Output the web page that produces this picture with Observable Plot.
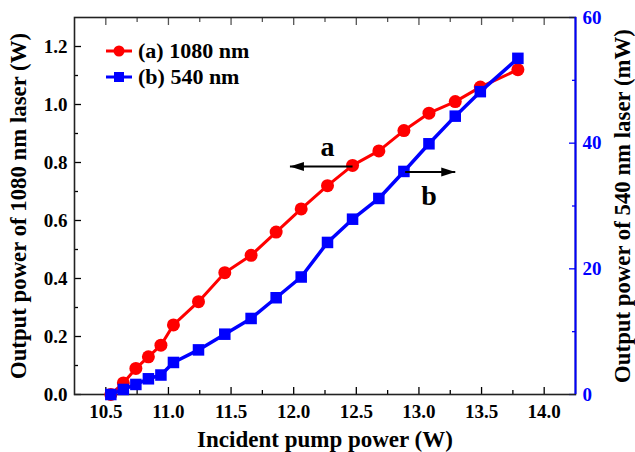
<!DOCTYPE html>
<html>
<head>
<meta charset="utf-8">
<script src="https://cdn.jsdelivr.net/npm/d3@7"></script>
<script src="https://cdn.jsdelivr.net/npm/@observablehq/plot@0.6"></script>
<style>
  body { margin: 0; background: #fff; }
  #wrap { position: relative; width: 635px; height: 452px; font-family: "Liberation Serif", "Times New Roman", serif; }
  #legend { position: absolute; left: 104px; top: 38px; font-weight: bold; font-size: 22px; line-height: 26px; color: #000; }
  #legend .row { display: flex; align-items: center; height: 26px; }
  #legend svg { margin-right: 4px; }
</style>
</head>
<body>
<div id="wrap"></div>
<script>
// ---- data ----
const pump    = [10.54, 10.64, 10.74, 10.84, 10.94, 11.04, 11.24, 11.45, 11.66, 11.86, 12.06, 12.27, 12.47, 12.68, 12.88, 13.08, 13.29, 13.49, 13.79];
const out1080 = [0.00, 0.04, 0.09, 0.13, 0.17, 0.24, 0.32, 0.42, 0.48, 0.56, 0.64, 0.72, 0.79, 0.84, 0.91, 0.97, 1.01, 1.06, 1.12]; // W
const out540  = [0.0, 0.8, 1.6, 2.5, 3.1, 5.1, 7.1, 9.6, 12.1, 15.4, 18.7, 24.2, 27.9, 31.2, 35.5, 39.9, 44.3, 48.2, 53.5];        // mW
const seriesNames = ["(a) 1080 nm", "(b) 540 nm"];
const seriesColors = ["#ff0000", "#0000ff"];

const xDomain = [10.25, 14.25];
const xTicks = [10.5, 11.0, 11.5, 12.0, 12.5, 13.0, 13.5, 14.0];
const xMinor = [10.75, 11.25, 11.75, 12.25, 12.75, 13.25, 13.75];
const leftDomain = [0, 1.3];
const leftTicks = [0, 0.2, 0.4, 0.6, 0.8, 1.0, 1.2];
const leftMinor = [0.1, 0.3, 0.5, 0.7, 0.9, 1.1];
const rightDomain = [0, 60];
const rightTicks = [0, 20, 40, 60];
const rightMinor = [10, 30, 50];

const xTitle = "Incident pump power (W)";
const leftTitle = "Output power of 1080 nm laser (W)";
const rightTitle = "Output power of 540 nm laser (mW)";

// annotations: label, label position, arrow start/end (x in W pump, y in left-axis W)
const annoLabels = ["a", "b"];
const annoLabelX = [12.27, 13.08];
const annoLabelY = [0.855, 0.686];
const arrowX1 = [12.47, 12.89];
const arrowX2 = [11.97, 13.29];
const arrowY  = [0.786, 0.767];

// ---- derived tables ----
const toLeft = v => v * leftDomain[1] / rightDomain[1];   // mW -> left-axis units
const toRight = v => v * rightDomain[1] / leftDomain[1];
const data = pump.map((p, i) => ({pump: p, w: out1080[i], mw: out540[i], mwL: toLeft(out540[i])}));
const annos = annoLabels.map((t, i) => ({t, lx: annoLabelX[i], ly: annoLabelY[i], x1: arrowX1[i], x2: arrowX2[i], y: arrowY[i], dir: arrowX2[i] > arrowX1[i] ? 0 : 180}));

const RED = seriesColors[0], BLUE = seriesColors[1];
const FONT = "Liberation Serif, Times New Roman, serif";

const arrowHead = {
  draw(ctx) { ctx.moveTo(0, 0); ctx.lineTo(-14, -4.5); ctx.lineTo(-14, 4.5); ctx.closePath(); }
};

const ticksX = (ticks, anchor, size, color) =>
  Plot.axisX(ticks, {anchor, tickSize: -size, tickFormat: () => "", stroke: color, strokeWidth: 1.3, label: null});
const ticksY = (ticks, anchor, size, color) =>
  Plot.axisY(ticks, {anchor, tickSize: -size, tickFormat: () => "", stroke: color, strokeWidth: 1.3, label: null});

const chart = Plot.plot({
  width: 635,
  height: 452,
  marginLeft: 74,
  marginRight: 60,
  marginTop: 17,
  marginBottom: 58,
  x: {domain: xDomain, label: null},
  y: {domain: leftDomain, label: null},
  style: {fontFamily: FONT, fontWeight: "bold", fontSize: "19px", background: "#fff", color: "#000"},
  marks: [
    // axis text
    Plot.axisX(xTicks, {anchor: "bottom", tickSize: 0, tickPadding: 10, tickFormat: d3.format(".1f"), fontSize: 19, fontWeight: "bold", label: null}),
    Plot.axisY(leftTicks, {anchor: "left", tickSize: 0, tickPadding: 7, tickFormat: d3.format(".1f"), fontSize: 19, fontWeight: "bold", label: null}),
    Plot.axisY(rightTicks.map(toLeft), {anchor: "right", tickSize: 0, tickPadding: 7, tickFormat: d => d3.format("d")(Math.round(toRight(d))), fill: BLUE, fontSize: 19, fontWeight: "bold", label: null}),
    // inward ticks
    ticksX(xTicks, "bottom", 7, "#000"),
    ticksX(xMinor, "bottom", 4, "#000"),
    ticksX(xTicks, "top", 7, "#555"),
    ticksX(xMinor, "top", 4, "#555"),
    ticksY(leftTicks, "left", 7, "#000"),
    ticksY(leftMinor, "left", 4, "#000"),
    ticksY(rightTicks.map(toLeft), "right", 7, BLUE),
    ticksY(rightMinor.map(toLeft), "right", 4, BLUE),
    // frame
    Plot.frame({stroke: "#222", strokeWidth: 1.6}),
    Plot.ruleX([xDomain[1]], {stroke: BLUE, strokeWidth: 2}),
    // series (a) 1080 nm
    Plot.line(data, {x: "pump", y: "w", stroke: RED, strokeWidth: 3}),
    Plot.dot(data, {x: "pump", y: "w", r: 6.5, fill: RED, symbol: "circle"}),
    // series (b) 540 nm
    Plot.line(data, {x: "pump", y: "mwL", stroke: BLUE, strokeWidth: 3.5}),
    Plot.dot(data, {x: "pump", y: "mwL", r: 6.5, fill: BLUE, symbol: "square"}),
    // annotations
    Plot.link(annos, {x1: "x1", x2: "x2", y1: "y", y2: "y", stroke: "#000", strokeWidth: 2}),
    Plot.dot(annos, {x: "x2", y: "y", symbol: arrowHead, fill: "#000", r: 5, rotate: "dir"}),
    Plot.text(annos, {x: "lx", y: "ly", text: "t", fontSize: 28, fontWeight: "bold", fill: "#000"}),
    // titles
    Plot.text([xTitle], {frameAnchor: "bottom", textAnchor: "middle", lineAnchor: "bottom", dy: 52, fontSize: 23, fontWeight: "bold", fill: "#000"}),
    Plot.text([leftTitle], {frameAnchor: "left", textAnchor: "middle", lineAnchor: "middle", rotate: -90, dx: -56, fontSize: 22.8, fontWeight: "bold", fill: "#000"}),
    Plot.text([rightTitle], {frameAnchor: "right", textAnchor: "middle", lineAnchor: "middle", rotate: -90, dx: 47, fontSize: 22.8, fontWeight: "bold", fill: "#000"})
  ]
});

const wrap = document.getElementById("wrap");
wrap.appendChild(chart);

// legend
const legend = document.createElement("div");
legend.id = "legend";
seriesNames.forEach((name, i) => {
  const row = document.createElement("div");
  row.className = "row";
  const sym = i === 0
    ? `<circle cx="15" cy="8" r="5.5" fill="${seriesColors[i]}"/>`
    : `<rect x="10" y="3" width="10" height="10" fill="${seriesColors[i]}"/>`;
  row.innerHTML = `<svg width="30" height="16"><line x1="2" x2="28" y1="8" y2="8" stroke="${seriesColors[i]}" stroke-width="3"/>${sym}</svg><span>${name}</span>`;
  legend.appendChild(row);
});
wrap.appendChild(legend);
</script>
</body>
</html>
